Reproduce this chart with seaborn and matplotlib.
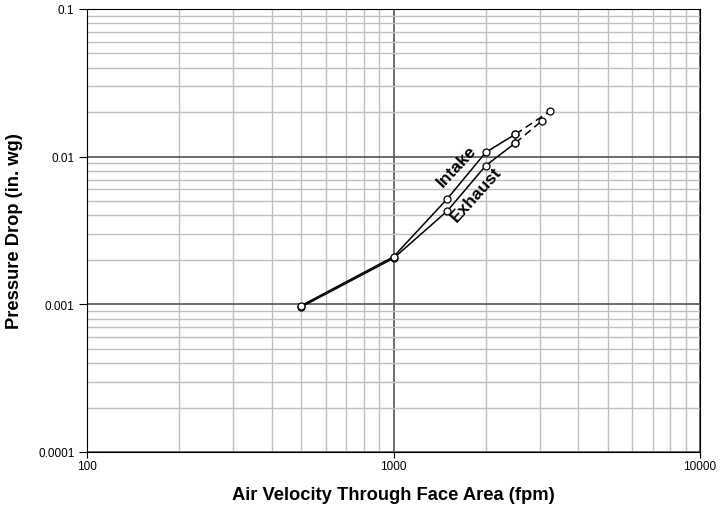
"""
Pressure drop vs. air velocity through face area, intake and exhaust curves
on a log-log grid.
"""

import pandas as pd
import numpy as np
import matplotlib
matplotlib.use("Agg")
import matplotlib.pyplot as plt
import seaborn as sns
from matplotlib.ticker import FixedLocator, LogLocator, NullFormatter

# values
intake_velocity = [500, 1000, 1500, 2000, 2500]
intake_drop = [0.00098, 0.0021, 0.0052, 0.0107, 0.0142]
intake_ext_velocity = [2500, 3250]
intake_ext_drop = [0.0142, 0.0204]

exhaust_velocity = [500, 1000, 1500, 2000, 2500]
exhaust_drop = [0.00096, 0.00205, 0.0043, 0.0087, 0.0124]
exhaust_ext_velocity = [2500, 3050]
exhaust_ext_drop = [0.0124, 0.0175]

x_ticks = [100, 1000, 10000]
x_tick_labels = ["100", "1000", "10000"]
y_ticks = [0.0001, 0.001, 0.01, 0.1]
y_tick_labels = ["0.0001", "0.001", "0.01", "0.1"]


def make_frame(velocity, drop, name):
    """Return a long dataframe for one curve"""
    return pd.DataFrame({"velocity": velocity, "drop": drop, "curve": name})


solid = pd.concat([make_frame(intake_velocity, intake_drop, "Intake"),
                   make_frame(exhaust_velocity, exhaust_drop, "Exhaust")])
dashed = pd.concat([make_frame(intake_ext_velocity, intake_ext_drop, "Intake"),
                    make_frame(exhaust_ext_velocity, exhaust_ext_drop,
                               "Exhaust")])

sns.set_style("white")
plt.rcParams["font.family"] = ["Liberation Sans", "DejaVu Sans"]
plt.rcParams["text.color"] = "black"
plt.rcParams["axes.labelcolor"] = "black"
plt.rcParams["xtick.color"] = "black"
plt.rcParams["ytick.color"] = "black"

fig = plt.figure(figsize=(7.2, 5.1), dpi=100)
ax = fig.add_axes([87 / 720, 1 - 453 / 510, 613 / 720, 443 / 510])

ax.set_xscale("log")
ax.set_yscale("log")
ax.set_xlim(100, 10000)
ax.set_ylim(0.0001, 0.1)

# grid: dark major lines at decades, light minor lines in between
ax.xaxis.set_major_locator(FixedLocator(x_ticks))
ax.yaxis.set_major_locator(FixedLocator(y_ticks))
ax.xaxis.set_minor_locator(LogLocator(base=10, subs=np.arange(2, 10)))
ax.yaxis.set_minor_locator(LogLocator(base=10, subs=np.arange(2, 10)))
ax.xaxis.set_minor_formatter(NullFormatter())
ax.yaxis.set_minor_formatter(NullFormatter())
ax.set_xticklabels(x_tick_labels)
ax.set_yticklabels(y_tick_labels)
ax.grid(which="major", color="#555555", linewidth=1.2)
ax.grid(which="minor", color="#c0c0c0", linewidth=1.0)
ax.set_axisbelow(True)
ax.tick_params(axis="x", which="major", direction="out", length=4,
               width=0.8, labelsize=8.5, pad=2, bottom=True)
ax.tick_params(axis="y", which="major", direction="out", length=6,
               width=0.8, labelsize=8.5, pad=3, left=True)
ax.tick_params(which="minor", length=0)

for spine in ax.spines.values():
    spine.set_color("black")
    spine.set_linewidth(0.8)

sns.lineplot(data=solid, x="velocity", y="drop", units="curve",
             estimator=None, color="black", linewidth=1.1, marker="o",
             markersize=5, markerfacecolor="white", markeredgecolor="black",
             markeredgewidth=0.9, ax=ax, zorder=3)
sns.lineplot(data=dashed, x="velocity", y="drop", units="curve",
             estimator=None, color="black", linewidth=1.1, marker="o",
             markersize=5, markerfacecolor="white", markeredgecolor="black",
             markeredgewidth=0.9, dashes=False, ax=ax, zorder=3)
for line in ax.lines[-2:]:
    line.set_linestyle((0, (5, 3)))

ax.text(1611, 0.00865, "Intake", rotation=47, ha="center", va="center",
        fontsize=12.5, fontweight="bold", rotation_mode="anchor")
ax.text(1858, 0.00559, "Exhaust", rotation=48, ha="center", va="center",
        fontsize=12.5, fontweight="bold", rotation_mode="anchor")

ax.set_xlabel("Air Velocity Through Face Area (fpm)", fontsize=13.2,
              fontweight="bold", labelpad=10)
ax.set_ylabel("Pressure Drop (in. wg)", fontsize=13.2, fontweight="bold")
ax.yaxis.set_label_coords(-0.104, 0.5)

fig.savefig("out.png", dpi=100)
